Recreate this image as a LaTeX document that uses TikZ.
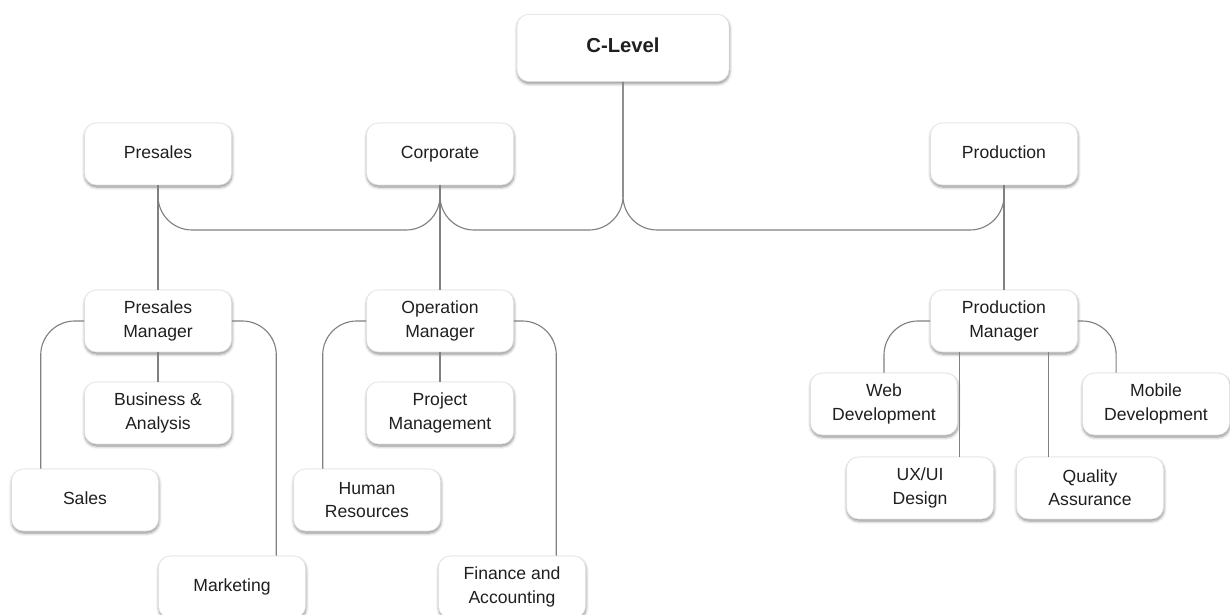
\documentclass[tikz,border=0pt]{standalone}
\usepackage{fontspec}
\setmainfont{Liberation Sans}
\usetikzlibrary{calc,shadows.blur}

\begin{document}
\begin{tikzpicture}[
  x=0.025cm, y=-0.025cm,
  every node/.style={font=\fontsize{12.5}{16.5}\selectfont, text=black!88},
  unit/.style={rectangle, rounded corners=0.3cm, draw=black!12, fill=white,
    minimum width=3.675cm, minimum height=1.55cm, align=center,
    blur shadow={shadow xshift=0.3pt, shadow yshift=-1.5pt, shadow blur steps=6, shadow opacity=45}},
  oneline/.style={unit, text height=1.6ex, text depth=0.45ex},
  chief/.style={oneline, minimum width=5.3cm, minimum height=1.68cm,
    font=\fontsize{14.4}{17}\selectfont\bfseries},
  link/.style={draw=black!50, line width=0.8pt, rounded corners=0.85cm}
]
\useasboundingbox (0,0) rectangle (1230,615);
\node[chief] (clevel) at (623,48) {C-Level};
\node[oneline] (presales) at (158,154) {Presales};
\node[oneline] (corporate) at (440,154) {Corporate};
\node[oneline] (production) at (1004,154) {Production};
\node[unit] (presmgr) at (158,321) {Presales\\Manager};
\node[unit] (business) at (158,413) {Business \&\\Analysis};
\node[oneline] (sales) at (85,500) {Sales};
\node[oneline] (marketing) at (232,587) {Marketing};
\node[unit] (opmgr) at (440,321) {Operation\\Manager};
\node[unit] (project) at (440,413) {Project\\Management};
\node[unit] (hr) at (367,500) {Human\\Resources};
\node[unit] (finance) at (512,587) {Finance and\\Accounting};
\node[unit] (prodmgr) at (1004,321) {Production\\Manager};
\node[unit] (web) at (884,404) {Web\\Development};
\node[unit] (mobile) at (1156,404) {Mobile\\Development};
\node[unit] (uxui) at (920,488) {UX/UI\\Design};
\node[unit] (quality) at (1090,488) {Quality\\Assurance};

\coordinate (bus) at (0,230);
\draw[link] (presales.south) |- (bus -| corporate.south) -- (corporate.south);
\draw[link] (clevel.south) |- (bus -| corporate.south) -- (corporate.south);
\draw[link] (clevel.south) |- (bus -| production.south) -- (production.south);
\draw[link] (presales.south) -- (presmgr.north);
\draw[link] (corporate.south) -- (opmgr.north);
\draw[link] (production.south) -- (prodmgr.north);
\draw[link] (presmgr.south) -- (business.north);
\draw[link] (opmgr.south) -- (project.north);

\draw[link] (presmgr.west) -| ($(sales.north west)!0.2!(sales.north east)$);
\draw[link] (presmgr.east) -| ($(marketing.north west)!0.8!(marketing.north east)$);
\draw[link] (opmgr.west) -| ($(hr.north west)!0.2!(hr.north east)$);
\draw[link] (opmgr.east) -| ($(finance.north west)!0.8!(finance.north east)$);
\draw[link] (prodmgr.west) -| (web.north);
\draw[link] (prodmgr.east) -| ($(mobile.north west)!0.23!(mobile.north east)$);
\coordinate (uxdrop) at ($(prodmgr.south west)!0.2!(prodmgr.south east)$);
\coordinate (qadrop) at ($(prodmgr.south west)!0.8!(prodmgr.south east)$);
\draw[link] (uxdrop) -- (uxdrop |- uxui.north);
\draw[link] (qadrop) -- (qadrop |- quality.north);
\end{tikzpicture}
\end{document}
